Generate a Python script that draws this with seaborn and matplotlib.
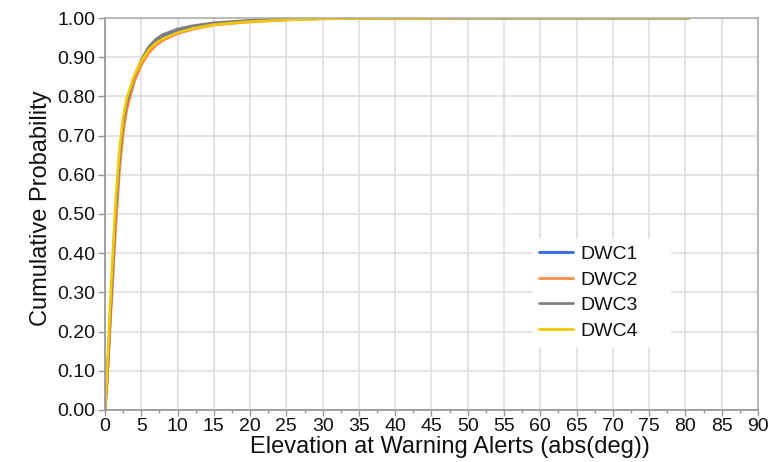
import matplotlib
matplotlib.use("Agg")
import matplotlib.pyplot as plt
from matplotlib.ticker import MultipleLocator, FormatStrFormatter
import numpy as np
import pandas as pd
import seaborn as sns

# Elevation (abs deg) sample points and empirical cumulative probability per channel
elevation = [0, 0.25, 0.5, 0.75, 1, 1.25, 1.5, 2, 2.5, 3, 4, 5, 6, 7, 8,
             10, 12, 15, 20, 25, 30, 40, 50, 60, 70, 80.5]
dwc1 = [0, 0.062, 0.150, 0.245, 0.325, 0.420, 0.500, 0.635, 0.725, 0.778, 0.843,
        0.888, 0.920, 0.940, 0.952, 0.967, 0.976, 0.985, 0.993, 0.997, 0.999,
        1.0, 1.0, 1.0, 1.0, 1.0]
dwc2 = [0, 0.055, 0.135, 0.225, 0.305, 0.390, 0.470, 0.610, 0.705, 0.765, 0.835,
        0.880, 0.910, 0.930, 0.943, 0.960, 0.971, 0.982, 0.990, 0.995, 0.998,
        0.999, 1.0, 1.0, 1.0, 1.0]
dwc3 = [0, 0.065, 0.155, 0.250, 0.330, 0.430, 0.510, 0.640, 0.730, 0.782, 0.848,
        0.893, 0.926, 0.946, 0.958, 0.972, 0.980, 0.988, 0.994, 0.997, 0.999,
        1.0, 1.0, 1.0, 1.0, 1.0]
dwc4 = [0, 0.080, 0.180, 0.280, 0.370, 0.460, 0.540, 0.665, 0.745, 0.795, 0.852,
        0.890, 0.918, 0.936, 0.948, 0.963, 0.973, 0.983, 0.991, 0.995, 0.998,
        0.999, 1.0, 1.0, 1.0, 1.0]

series_names = ["DWC1", "DWC2", "DWC3", "DWC4"]
series_colors = ["#3366EE", "#FF8C45", "#808080", "#F2C800"]
x_label = "Elevation at Warning Alerts (abs(deg))"
y_label = "Cumulative Probability"

frames = []
for name, vals in zip(series_names, [dwc1, dwc2, dwc3, dwc4]):
    frames.append(pd.DataFrame({"elev": elevation, "prob": vals, "channel": name}))
df = pd.concat(frames, ignore_index=True)

sns.set_theme(style="whitegrid")
plt.rcParams["font.family"] = ["Liberation Sans", "DejaVu Sans"]

fig = plt.figure(figsize=(7.73, 4.62), dpi=100)
ax = fig.add_axes([0.1358, 0.1126, 0.8448, 0.8484])

sns.lineplot(data=df, x="elev", y="prob", hue="channel", hue_order=series_names,
             palette=series_colors, linewidth=1.9, ax=ax, legend=False,
             estimator=None, sort=False)

ax.set_xlim(0, 90)
ax.set_ylim(0, 1.0)
ax.xaxis.set_major_locator(MultipleLocator(5))
ax.xaxis.set_minor_locator(MultipleLocator(2.5))
ax.yaxis.set_major_locator(MultipleLocator(0.1))
ax.yaxis.set_major_formatter(FormatStrFormatter("%.2f"))

ax.grid(True, which="major", color="#DCDCDC", linewidth=1.1)
ax.grid(False, which="minor")
ax.set_axisbelow(True)

for side in ["left", "bottom"]:
    ax.spines[side].set_color("#999999")
    ax.spines[side].set_linewidth(1.3)
for side in ["top", "right"]:
    ax.spines[side].set_color("#AAAAAA")
    ax.spines[side].set_linewidth(1.1)

ax.tick_params(axis="x", which="major", direction="out", length=4, width=1,
               color="#999999", labelsize=14, pad=2, bottom=True)
ax.tick_params(axis="x", which="minor", direction="out", length=2.5, width=1,
               color="#999999", bottom=True)
ax.tick_params(axis="y", which="major", direction="out", length=5, width=1,
               color="#999999", labelsize=14, pad=2, left=True)
for lbl in ax.get_xticklabels() + ax.get_yticklabels():
    lbl.set_color("#111111")

ax.set_xlabel(x_label, fontsize=17, color="#111111")
ax.set_ylabel(y_label, fontsize=17, color="#111111")
ax.xaxis.set_label_coords(0.528, -0.066)
ax.yaxis.set_label_coords(-0.081, 0.515)

handles = [plt.Line2D([], [], color=c, linewidth=2) for c in series_colors]
leg = ax.legend(handles, series_names, loc="upper left",
                bbox_to_anchor=(0.655, 0.166, 0.21, 0.27), mode="expand",
                fontsize=14, frameon=True, fancybox=False, framealpha=1,
                edgecolor="white", facecolor="white", handlelength=1.75,
                handletextpad=0.35, labelspacing=0.41, borderpad=0.33,
                borderaxespad=0)
for t in leg.get_texts():
    t.set_color("#111111")

fig.savefig("out.png", dpi=100)
